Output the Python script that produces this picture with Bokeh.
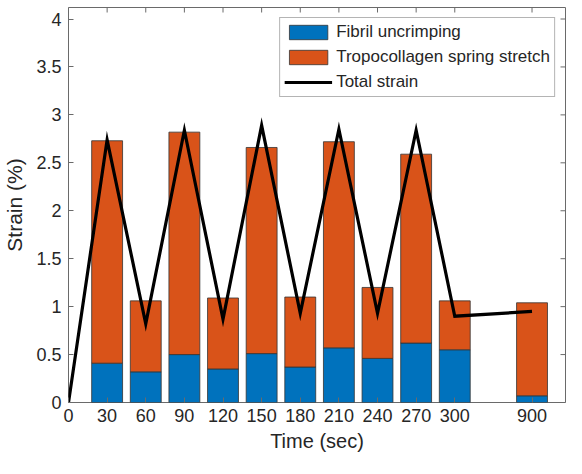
import math
from bokeh.plotting import figure
from bokeh.models import (ColumnDataSource, FixedTicker, NumeralTickFormatter,
                          Range1d, Legend, LegendItem)
from bokeh.embed import file_html
from bokeh.resources import INLINE

# ---- data ----
times = [30, 60, 90, 120, 150, 180, 210, 240, 270, 300, 900]
fibril = [0.41, 0.32, 0.50, 0.35, 0.51, 0.37, 0.57, 0.46, 0.62, 0.55, 0.07]
tropo = [2.32, 0.74, 2.32, 0.74, 2.15, 0.73, 2.15, 0.74, 1.97, 0.51, 0.97]
line_times = [0, 30, 60, 90, 120, 150, 180, 210, 240, 270, 300, 900]
total_strain = [0, 2.74, 0.82, 2.84, 0.87, 2.89, 0.93, 2.85, 0.93, 2.84, 0.90, 0.95]
x_tick_times = [0, 30, 60, 90, 120, 150, 180, 210, 240, 270, 300, 900]
y_ticks = [0, 0.5, 1, 1.5, 2, 2.5, 3, 3.5, 4]
X_MAX, Y_MAX = 386, 4.12

BLUE = "#0072BD"
ORANGE = "#D95319"
TXT = "#262626"
AX = "#6a6a6a"
FONT = "Liberation Sans"

# broken time axis: 900 s is drawn two steps after 300 s
def tpos(t):
    return t if t <= 300 else 360

bars = ColumnDataSource(dict(x=[tpos(t) for t in times], fibril=fibril, tropo=tropo))
line = ColumnDataSource(dict(x=[tpos(t) for t in line_times], y=total_strain))

p = figure(width=566, height=458, output_backend="svg", toolbar_location=None,
           x_range=Range1d(0, X_MAX), y_range=Range1d(0, Y_MAX),
           min_border_left=68, min_border_right=1, min_border_top=7, min_border_bottom=56)
p.xgrid.visible = False
p.ygrid.visible = False
p.outline_line_color = AX
p.outline_line_width = 1

r_bars = p.vbar_stack(["fibril", "tropo"], x="x", width=24, source=bars,
                      color=[BLUE, ORANGE], line_color="#333333", line_width=0.8)
r_line = p.line("x", "y", source=line, line_color="black", line_width=3.2, line_join="miter")

# mirrored inward tick marks on the top and right edges (MATLAB box style)
xt_pos = [tpos(t) for t in x_tick_times]
p.scatter(xt_pos, [Y_MAX] * len(xt_pos), marker="dash", angle=math.pi / 2, size=10,
          line_color=AX, line_width=1)
p.scatter([X_MAX] * len(y_ticks), y_ticks, marker="dash", size=10,
          line_color=AX, line_width=1)

def style(ax):
    ax.axis_line_color = None
    ax.major_tick_in = 5
    ax.major_tick_out = 0
    ax.major_tick_line_color = AX
    ax.minor_tick_line_color = None
    ax.major_label_text_font = FONT
    ax.major_label_text_font_size = "18px"
    ax.major_label_text_color = TXT
    ax.axis_label_text_font = FONT
    ax.axis_label_text_font_style = "normal"
    ax.axis_label_text_color = TXT

xa = p.xaxis[0]
xa.ticker = FixedTicker(ticks=xt_pos)
xa.major_label_overrides = {tpos(t): str(t) for t in x_tick_times}
xa.axis_label = "Time (sec)"
style(xa)
xa.major_label_standoff = 6
xa.axis_label_standoff = 5
xa.axis_label_text_font_size = "20px"

ya = p.yaxis[0]
ya.ticker = FixedTicker(ticks=y_ticks)
ya.formatter = NumeralTickFormatter(format="0.[0]")
ya.axis_label = "Strain (%)"
style(ya)
ya.major_label_standoff = 7
ya.axis_label_standoff = 7
ya.axis_label_text_font_size = "21px"

legend = Legend(items=[
    LegendItem(label="Fibril uncrimping", renderers=[r_bars[0]]),
    LegendItem(label="Tropocollagen spring stretch", renderers=[r_bars[1]]),
    LegendItem(label="Total strain", renderers=[r_line]),
], location="top_right")
legend.label_text_font = FONT
legend.label_text_font_size = "17px"
legend.label_text_color = TXT
legend.glyph_width = 48
legend.glyph_height = 18
legend.label_height = 18
legend.spacing = 5
legend.padding = 4
legend.margin = 10
legend.label_standoff = 4
legend.border_line_color = AX
legend.border_line_width = 1
legend.background_fill_alpha = 1
p.add_layout(legend)

open("out.html", "w").write(file_html(p, INLINE))
